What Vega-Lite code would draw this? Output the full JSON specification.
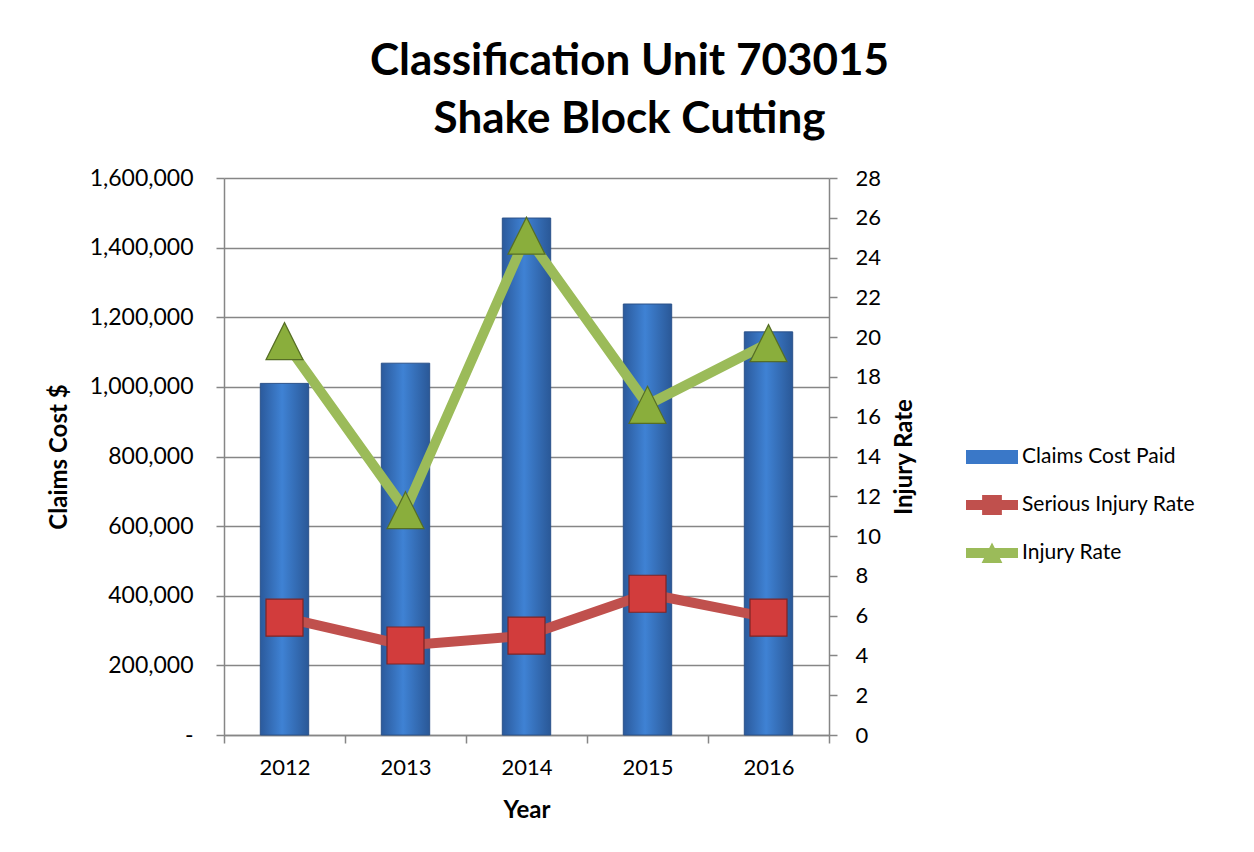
{
  "$schema": "https://vega.github.io/schema/vega-lite/v6.json",
  "width": 605,
  "height": 557,
  "autosize": "none",
  "padding": {"left": 224, "top": 178, "right": 425, "bottom": 117},
  "background": "white",
  "config": {
    "font": "Lato",
    "view": {"stroke": null},
    "axis": {"labelColor": "black", "titleColor": "black", "labelFont": "Lato", "titleFont": "Lato", "labelFontSize": 22, "titleFontSize": 24, "titleFontWeight": "bold", "domainColor": "#868686", "tickColor": "#868686", "domainWidth": 1.5, "tickWidth": 1.5, "tickSize": 8},
    "legend": {"labelFont": "Lato", "labelFontSize": 21, "labelColor": "black"}
  },
  "title": {
    "text": ["Classification Unit 703015", "Shake Block Cutting"],
    "font": "Lato",
    "fontSize": 44,
    "fontWeight": "bold",
    "color": "black",
    "lineHeight": 58,
    "anchor": "middle",
    "frame": "group",
    "dx": 103,
    "offset": 25
  },
  "data": {
    "values": [
      {"year": "2012", "claims": 1010000, "serious": 5.9, "injury": 19.8},
      {"year": "2013", "claims": 1068000, "serious": 4.5, "injury": 11.3},
      {"year": "2014", "claims": 1485000, "serious": 5.0, "injury": 25.1},
      {"year": "2015", "claims": 1238000, "serious": 7.1, "injury": 16.6},
      {"year": "2016", "claims": 1158000, "serious": 5.9, "injury": 19.7}
    ]
  },
  "encoding": {
    "x": {
      "field": "year",
      "type": "ordinal",
      "title": "Year",
      "scale": {"paddingInner": 0, "paddingOuter": 0},
      "axis": {"labelAngle": 0, "tickBand": "extent", "labelPadding": 14, "titlePadding": 20}
    }
  },
  "layer": [
    {
      "mark": {
        "type": "bar",
        "width": {"band": 0.4},
        "fill": {"gradient": "linear", "x1": 0, "x2": 1, "y1": 0, "y2": 0, "stops": [
          {"offset": 0, "color": "#2b5a9c"},
          {"offset": 0.45, "color": "#3f82d4"},
          {"offset": 1, "color": "#2a5897"}
        ]},
        "stroke": "#2b528a",
        "strokeWidth": 1
      },
      "encoding": {
        "y": {
          "field": "claims",
          "type": "quantitative",
          "title": "Claims Cost $",
          "scale": {"domain": [0, 1600000], "nice": false},
          "axis": {
            "values": [0, 200000, 400000, 600000, 800000, 1000000, 1200000, 1400000, 1600000],
            "labelExpr": "datum.value == 0 ? '-' : format(datum.value, ',')",
            "labelFontSize": 23,
            "labelPadding": 23,
            "labelOverlap": false,
            "titlePadding": 18,
            "grid": true,
            "gridColor": "#868686",
            "gridWidth": 1.5
          }
        }
      }
    },
    {
      "layer": [
        {
          "mark": {"type": "line", "strokeWidth": 10},
          "encoding": {
            "y": {"field": "serious", "type": "quantitative"},
            "color": {"datum": "Serious Injury Rate"}
          }
        },
        {
          "mark": {"type": "point", "shape": "square", "size": 1369, "filled": true, "fill": "#d23c3c", "stroke": "#7e2424", "strokeWidth": 1.2, "opacity": 1},
          "encoding": {
            "y": {"field": "serious", "type": "quantitative"}
          }
        },
        {
          "mark": {"type": "line", "strokeWidth": 10},
          "encoding": {
            "y": {"field": "injury", "type": "quantitative"},
            "color": {"datum": "Injury Rate"}
          }
        },
        {
          "mark": {"type": "point", "shape": "M0,-1L1,1H-1Z", "size": 1369, "filled": true, "fill": "#8aae3c", "stroke": "#566e25", "strokeWidth": 1.2, "opacity": 1},
          "encoding": {
            "y": {"field": "injury", "type": "quantitative"}
          }
        }
      ],
      "encoding": {
        "y": {
          "type": "quantitative",
          "title": "Injury Rate",
          "scale": {"domain": [0, 28], "nice": false},
          "axis": {
            "orient": "right",
            "values": [0, 2, 4, 6, 8, 10, 12, 14, 16, 18, 20, 22, 24, 26, 28],
            "labelOverlap": false,
            "labelSeparation": -15,
            "labelBound": false,
            "labelPadding": 18,
            "titlePadding": 36,
            "titleAngle": 270,
            "grid": false
          }
        },
        "color": {
          "type": "nominal",
          "scale": {
            "domain": ["Claims Cost Paid", "Serious Injury Rate", "Injury Rate"],
            "range": ["#3a78c8", "#c0504d", "#9bbb59"]
          },
          "legend": {
            "title": null,
            "orient": "none",
            "legendX": 742,
            "legendY": 253,
            "symbolSize": 2704,
            "labelOffset": 4,
            "labelLimit": 0,
            "rowPadding": 12,
            "encode": {
              "symbols": {
                "update": {
                  "shape": {"signal": "datum.value === 'Claims Cost Paid' ? 'M-1,-0.27H1V0.27H-1Z' : datum.value === 'Serious Injury Rate' ? 'M-1,-0.19H1V0.19H-1Z M-0.38,-0.38H0.38V0.38H-0.38Z' : 'M-1,-0.19H1V0.19H-1Z M0,-0.4L0.4,0.38H-0.4Z'"},
                  "fill": {"signal": "datum.value === 'Claims Cost Paid' ? '#3a78c8' : datum.value === 'Serious Injury Rate' ? '#c0504d' : '#9bbb59'"},
                  "stroke": {"value": "transparent"},
                  "strokeWidth": {"value": 0},
                  "opacity": {"value": 1}
                }
              }
            }
          }
        }
      }
    }
  ],
  "resolve": {"scale": {"y": "independent"}}
}
